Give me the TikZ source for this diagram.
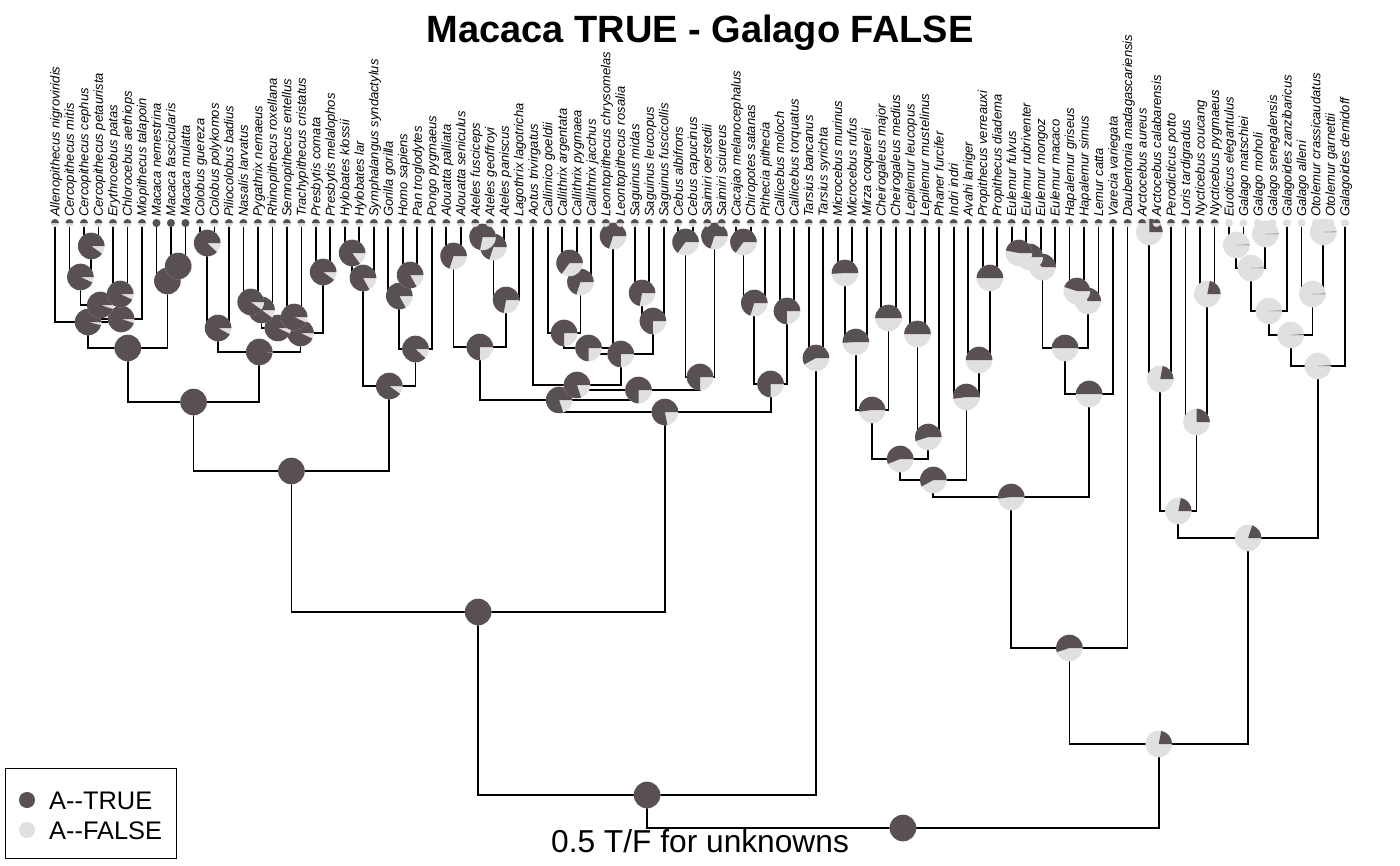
\documentclass[tikz,border=0pt]{standalone}
\usepackage{fontspec}
\setmainfont{Liberation Sans}
\definecolor{truecol}{RGB}{89,80,85}
\definecolor{falsecol}{RGB}{224,223,225}
\pgfdeclarelayer{background}
\pgfsetlayers{background,main}
% pie of the state probabilities: name, fraction TRUE, radius
\newcommand{\nodepie}[3]{%
  \fill[falsecol] (#1) circle[radius=#3];
  \ifdim#2pt>0pt
  \fill[truecol] (#1) -- ++(0:#3) arc[start angle=0,end angle={-360*#2},radius=#3] -- cycle;
  \fi}

\begin{document}
\begin{tikzpicture}[x=1pt,y=-1pt,
  edge/.style={line width=1.8pt,black},
  tiplabel/.style={rotate=90,anchor=base west,inner sep=0pt,font=\itshape\fontsize{13}{13}\selectfont},
  legtext/.style={anchor=base west,inner sep=0pt,font=\fontsize{25.4}{26}\selectfont}]
\useasboundingbox (0,0) rectangle (1400,865);
\node[anchor=base,inner sep=0pt,font=\bfseries\fontsize{38}{40}\selectfont] (title) at (700,42) {Macaca TRUE - Galago FALSE};
% tips
\foreach \sp [count=\i] in {Allenopithecus nigroviridis, Cercopithecus mitis, Cercopithecus cephus,
  Cercopithecus petaurista, Erythrocebus patas, Chlorocebus aethiops, Miopithecus talapoin,
  Macaca nemestrina, Macaca fascicularis, Macaca mulatta, Colobus guereza, Colobus polykomos,
  Piliocolobus badius, Nasalis larvatus, Pygathrix nemaeus, Rhinopithecus roxellana,
  Semnopithecus entellus, Trachypithecus cristatus, Presbytis comata, Presbytis melalophos,
  Hylobates klossii, Hylobates lar, Symphalangus syndactylus, Gorilla gorilla, Homo sapiens,
  Pan troglodytes, Pongo pygmaeus, Alouatta palliata, Alouatta seniculus, Ateles fusciceps,
  Ateles geoffroyi, Ateles paniscus, Lagothrix lagotricha, Aotus trivirgatus, Callimico goeldii,
  Callithrix argentata, Callithrix pygmaea, Callithrix jacchus, Leontopithecus chrysomelas,
  Leontopithecus rosalia, Saguinus midas, Saguinus leucopus, Saguinus fuscicollis,
  Cebus albifrons, Cebus capucinus, Saimiri oerstedii, Saimiri sciureus,
  Cacajao melanocephalus, Chiropotes satanas, Pithecia pithecia, Callicebus moloch,
  Callicebus torquatus, Tarsius bancanus, Tarsius syrichta, Microcebus murinus,
  Microcebus rufus, Mirza coquereli, Cheirogaleus major, Cheirogaleus medius,
  Lepilemur leucopus, Lepilemur mustelinus, Phaner furcifer, Indri indri, Avahi laniger,
  Propithecus verreauxi, Propithecus diadema, Eulemur fulvus, Eulemur rubriventer,
  Eulemur mongoz, Eulemur macaco, Hapalemur griseus, Hapalemur simus, Lemur catta,
  Varecia variegata, Daubentonia madagascariensis, Arctocebus aureus,
  Arctocebus calabarensis, Perodicticus potto, Loris tardigradus, Nycticebus coucang,
  Nycticebus pygmaeus, Euoticus elegantulus, Galago matschiei, Galago moholi,
  Galago senegalensis, Galagoides zanzibaricus, Galago alleni, Otolemur crassicaudatus,
  Otolemur garnettii, Galagoides demidoff} {
  \coordinate (t\i) at ({55+(\i-1)*14.494},223);
  \node[tiplabel] (lab\i) at ({59.5+(\i-1)*14.494},217) {\sp};
}
% internal nodes, parents first
\foreach \n/\x/\y/\p in {root/902.9/828/1, hap/647.05/795/1, anth/478.15/612/1,
  catar/291.4/471/1, cercid/193.55/402/1, cercin/127.8/348/1,
  guen/88.1/322/.96, guen2/121.2/319/.95, guen3/100.3/305/.95, cerco/80.4/277/.93,
  cerco2/91.25/246/.9, erch/120.25/294/.93, maca/167.4/281/1, maca2/178.2/266/1,
  colob/259.3/352/.99, afcol/218.1/328/.92, colo/207.2/243/.88, ascol/300.5/333/.93,
  ascol2/277.85/328/.93, odd/261.55/310/.9, nasp/250.7/302/.9, semtra/294.15/317/.93,
  presb/323.15/272/.9, homin/389.3/386/.9, hylo/363/278/.83, hylo2/352.15/253/.85,
  homid/415.55/349/.88, afape/399.3/296/.83, hopa/410.15/275/.83,
  platy/664.9/412/.78, plat2/559.15/400/.8, atel/479.8/347/.75, alou/453.55/256/.7,
  atla/506.1/300/.72, atel2/493.4/247/.7, atel3/482.55/237/.72, ceb/638.5/390/.75,
  aoca/577/385/.8, calit/620.75/354/.75, calit2/588.6/348/.75, cacj/564.1/333/.75,
  calx/580.4/282/.7, calx2/569.55/263/.65, leon/613.05/236/.7, sagu/652.9/321/.75,
  sagu2/642.05/293/.72, cebsai/700/377/.75, cebu/685.55/242/.65, saim/714.45/236/.7,
  pith/770.6/384/.75, pith2/754.3/303/.7, pith3/743.45/242/.65, calb/786.95/311/.75,
  tars/815.95/358/.58,
  strep/1158.75/744/.22, lemu/1069.4/648/.55, lemu2/1011.2/497/.52, chin/933.3/480/.58,
  chle/900.2/459/.56, chei/872.1/410/.52, micm/855.8/342/.51, micr/844.95/273/.51,
  chgal/888.45/318/.5, leph/928.3/437/.55, lepi/917.45/334/.5, indr/966.4/397/.52,
  avpr/979.05/360/.5, prop/989.9/278/.5, lemd/1089.1/394/.5, lemd2/1065.05/348/.5,
  eul/1042.4/267/.4, eul2/1029.7/257/.45, eul3/1018.85/253/.47, hale/1087.7/301/.35,
  hapa/1076.85/291/.45,
  loris/1248.1/538/.2, lori/1178.35/511/.22, perod/1160.2/379/.22, arct/1149.35/232/.25,
  nyct/1196.5/422/.25, nyct2/1207.35/294/.22, gala/1317.8/366/.01, gal2/1290.65/335/.01,
  gal3/1268.9/311/.005, gal4/1250.8/268/.005, gal5/1236.35/245/.005, galm/1265.3/234/.005,
  gal6/1312.4/294/.005, otol/1323.25/232/.005} {
  \coordinate (\n) at (\x,\y);
  \nodepie{\n}{\p}{13.3}
}
% tip states: Macaca true, galagos false, rest unknown
\foreach \i in {1,...,90} {
  \ifnum\i<8 \def\tp{.5}\else\ifnum\i<11 \def\tp{1}\else\ifnum\i<82 \def\tp{.5}\else\def\tp{0}\fi\fi\fi
  \nodepie{t\i}{\tp}{4}
}
% branches
\begin{pgfonlayer}{background}
\fill[white] (0,0) rectangle (1400,865);
\foreach \a/\b in {root/hap, root/strep, hap/anth, hap/tars, anth/catar, anth/platy,
  catar/cercid, catar/homin, cercid/cercin, cercid/colob, cercin/guen, cercin/maca,
  guen/t1, guen/guen2, guen2/guen3, guen2/t7, guen3/cerco, guen3/erch, cerco/t2, cerco/cerco2,
  cerco2/t3, cerco2/t4, erch/t5, erch/t6, maca/t8, maca/maca2, maca2/t9, maca2/t10,
  colob/afcol, colob/ascol, afcol/colo, afcol/t13, colo/t11, colo/t12, ascol/ascol2, ascol/presb,
  ascol2/odd, ascol2/semtra, odd/nasp, odd/t16, nasp/t14, nasp/t15, semtra/t17, semtra/t18,
  presb/t19, presb/t20, homin/hylo, homin/homid, hylo/hylo2, hylo/t23, hylo2/t21, hylo2/t22,
  homid/afape, homid/t27, afape/t24, afape/hopa, hopa/t25, hopa/t26,
  platy/plat2, platy/pith, plat2/atel, plat2/ceb, atel/alou, atel/atla, alou/t28, alou/t29,
  atla/atel2, atla/t33, atel2/atel3, atel2/t32, atel3/t30, atel3/t31, ceb/aoca, ceb/cebsai,
  aoca/t34, aoca/calit, calit/calit2, calit/sagu, calit2/cacj, calit2/leon, cacj/t35, cacj/calx,
  calx/calx2, calx/t38, calx2/t36, calx2/t37, leon/t39, leon/t40, sagu/sagu2, sagu/t43,
  sagu2/t41, sagu2/t42, cebsai/cebu, cebsai/saim, cebu/t44, cebu/t45, saim/t46, saim/t47,
  pith/pith2, pith/calb, pith2/pith3, pith2/t50, pith3/t48, pith3/t49, calb/t51, calb/t52,
  tars/t53, tars/t54, strep/lemu, strep/loris, lemu/lemu2, lemu/t75, lemu2/chin, lemu2/lemd,
  chin/chle, chin/indr, chle/chei, chle/leph, chei/micm, chei/chgal, micm/micr, micm/t57,
  micr/t55, micr/t56, chgal/t58, chgal/t59, leph/lepi, leph/t62, lepi/t60, lepi/t61,
  indr/t63, indr/avpr, avpr/t64, avpr/prop, prop/t65, prop/t66, lemd/lemd2, lemd/t74,
  lemd2/eul, lemd2/hale, eul/eul2, eul/t70, eul2/eul3, eul2/t69, eul3/t67, eul3/t68,
  hale/hapa, hale/t73, hapa/t71, hapa/t72, loris/lori, loris/gala, lori/perod, lori/nyct,
  perod/arct, perod/t78, arct/t76, arct/t77, nyct/t79, nyct/nyct2, nyct2/t80, nyct2/t81,
  gala/gal2, gala/t90, gal2/gal3, gal2/gal6, gal3/gal4, gal3/t86, gal4/gal5, gal4/galm,
  gal5/t82, gal5/t83, galm/t84, galm/t85, gal6/t87, gal6/otol, otol/t88, otol/t89}
  \draw[edge] (\a) -| (\b);
\end{pgfonlayer}
% legend
\node[draw,line width=0.8pt,minimum width=171pt,minimum height=90pt,inner sep=0pt,anchor=north west] (legbox) at (5,768) {};
\coordinate (legT) at (27,800);
\coordinate (legF) at (27,830);
\nodepie{legT}{1}{8}
\nodepie{legF}{0}{8}
\node[legtext] (legtrue) at (49,809) {A-\kern0pt-TRUE};
\node[legtext] (legfalse) at (49,839) {A-\kern0pt-FALSE};
\node[anchor=base,inner sep=0pt,font=\fontsize{31.7}{32}\selectfont] (subtitle) at (700,852) {0.5 T/F for unknowns};
\end{tikzpicture}
\end{document}
